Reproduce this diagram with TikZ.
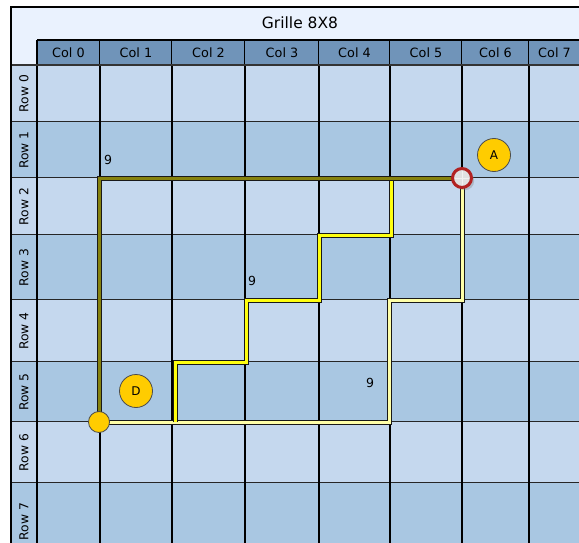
\documentclass[tikz,border=0pt]{standalone}
\usepackage{fontspec}
\setmainfont{DejaVu Sans}
\usetikzlibrary{shadows}

\definecolor{titlebg}{HTML}{EAF2FE}
\definecolor{headbg}{HTML}{7094B9}
\definecolor{rowlight}{HTML}{C5D8EE}
\definecolor{rowdark}{HTML}{A9C7E2}
\definecolor{pathdark}{HTML}{86820E}
\definecolor{pathbright}{HTML}{FFFF10}
\definecolor{pathpale}{HTML}{FFFFA8}
\definecolor{markgold}{HTML}{FFCC00}
\definecolor{markred}{HTML}{B22222}

\begin{document}
\begin{tikzpicture}[x=1pt, y=-1pt, line join=miter,
  route/.style={draw=black!90, line width=1pt, double=#1, double distance=3pt},
  tag/.style={circle, minimum size=33pt, inner sep=0pt, fill=markgold,
    draw=black!70, line width=0.8pt, font=\fontsize{12}{13}\selectfont},
  endmark/.style={circle, minimum size=21pt, inner sep=0pt, fill=markgold,
    draw=black!70, line width=0.8pt},
  startmark/.style={circle, minimum size=19pt, inner sep=0pt, fill=black!12,
    draw=markred, line width=3pt, drop shadow={opacity=0.35}},
  num/.style={inner sep=0pt, font=\fontsize{12.5}{13}\selectfont}]

  % page and clipping window
  \useasboundingbox (0,0) rectangle (579,543);
  \clip (0,0) rectangle (579,543);
  \fill[white] (0,0) rectangle (579,543);

  % title band
  \fill[titlebg] (11,7) rectangle (582,65);
  \node[font=\fontsize{15.5}{17}\selectfont] (title) at (300,23) {Grille 8X8};

  % rows: background, label on the left
  \foreach \ya/\yb [count=\r from 0] in {65/122,122/178,178/235,235/300,300/362,362/422,422/483,483/560}{
    \ifodd\r \def\rowcol{rowdark}\else\def\rowcol{rowlight}\fi
    \fill[\rowcol] (11,\ya) rectangle (582,\yb);
    \node[rotate=90, font=\fontsize{12.3}{13}\selectfont] (row\r) at (24,{(\ya+\yb)/2}) {Row \r};
    \draw[black!85, line width=1.3pt] (11,\yb) -- (582,\yb);
  }

  % column headers and cell borders
  \foreach \xa/\xb [count=\c from 0] in {37/100,100/172,172/245,245/319,319/390,390/462,462/529,529/580}{
    \fill[headbg] (\xa,40) rectangle (\xb,65);
    \node[font=\fontsize{12.8}{13}\selectfont] (col\c) at ({(\xa+\xb)/2},52.5) {Col \c};
    \draw[black, line width=1.3pt] (\xb,40) -- (\xb,560);
  }
  \draw[black, line width=1.3pt] (37,40) -- (37,560);
  \draw[black, line width=1.3pt] (37,40) -- (582,40);
  \draw[black!80, line width=1.8pt] (11,65) -- (582,65);

  % outer frame
  \draw[black, line width=1.3pt] (11,7) rectangle (582,560);

  % end points and corners of the routes
  \coordinate (start) at (462,178);
  \coordinate (finish) at (99,422);
  \coordinate (p1) at (389,300);
  \coordinate (b0) at (175,422);
  \coordinate (b1) at (246,362);
  \coordinate (b2) at (319,300);
  \coordinate (b3) at (391,235);
  \coordinate (b4) at (391,178);

  % routes (pale, bright, then dark on top)
  \draw[route=pathpale] (finish) -| (p1) -| (start);
  \draw[route=pathbright] (b0) |- (b1) |- (b2) |- (b3) -- (b4);
  \draw[route=pathdark] (finish) |- (start);

  % lengths
  \node[num] (len1) at (108,160) {9};
  \node[num] (len2) at (252,281) {9};
  \node[num] (len3) at (370,383) {9};

  % markers
  \node[endmark] (dpoint) at (finish) {};
  \node[startmark] (apoint) at (start) {};
  \draw[white!70!black!20, line width=0.6pt]
    ([xshift=-7pt]apoint.center) -- ([xshift=7pt]apoint.center)
    ([yshift=-7pt]apoint.center) -- ([yshift=7pt]apoint.center);
  \node[tag] (A) at (494,155) {A};
  \node[tag] (D) at (136,391) {D};
\end{tikzpicture}
\end{document}
